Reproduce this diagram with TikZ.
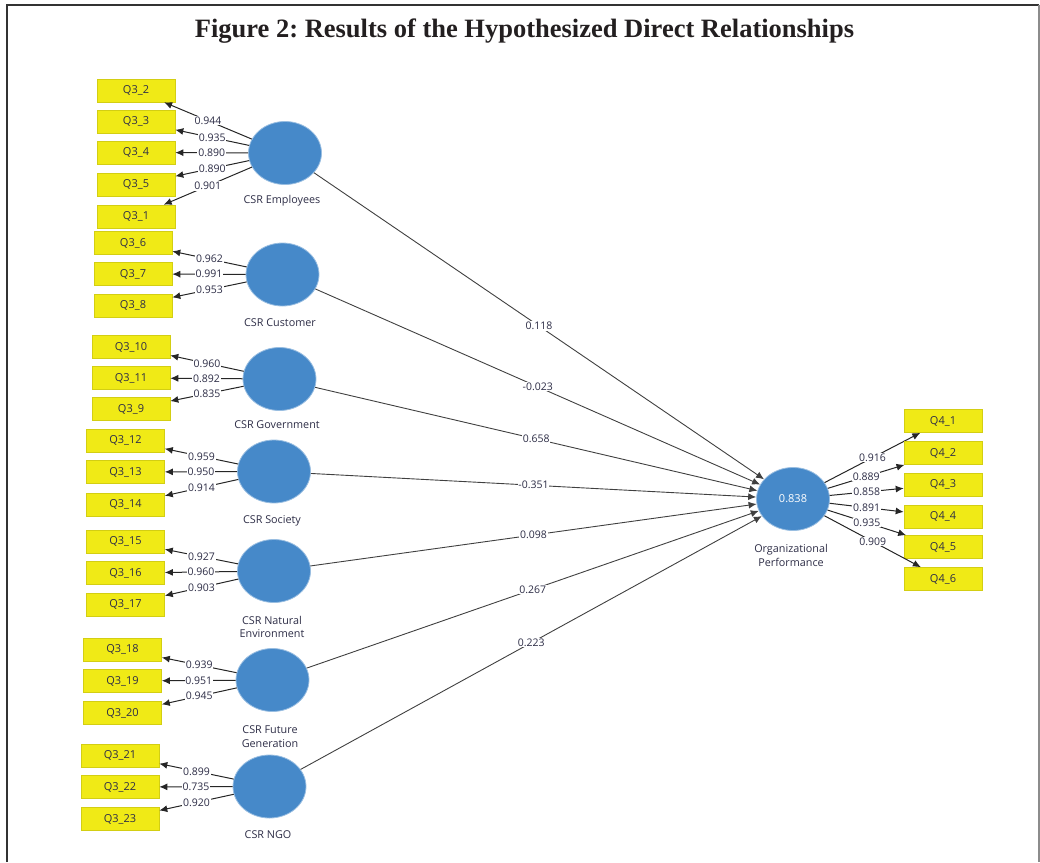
\documentclass[tikz,border=0pt]{standalone}
\usepackage{fontspec}
\setmainfont{Liberation Serif}
\newfontfamily\plsfont{Open Sans}
\usetikzlibrary{shapes.geometric,arrows.meta}
\definecolor{qyel}{RGB}{240,234,22}
\definecolor{lvblue}{RGB}{70,137,201}
\definecolor{txt}{RGB}{45,45,70}
\definecolor{titlec}{RGB}{35,31,32}
\frenchspacing
\begin{document}
\begin{tikzpicture}[x=1pt,y=-1pt,
  ind/.style={rectangle, fill=qyel, draw=qyel!88!black, line width=0.6pt, minimum width=78pt, minimum height=23pt, inner sep=0pt, font=\plsfont\fontsize{11}{12}\selectfont, text=txt},
  lv/.style={ellipse, fill=lvblue, draw=lvblue!55!white, line width=0.8pt, minimum width=73pt, minimum height=63pt, inner sep=0pt},
  loadarrow/.style={draw=black!85, line width=1pt, -{Latex[length=8pt,width=7pt]}},
  pathline/.style={draw=black!75, line width=0.9pt, -{Latex[length=8pt,width=7pt]}},
  lbl/.style={fill=white, inner sep=0.8pt, font=\plsfont\fontsize{10.5}{12}\selectfont, text=txt},
  lvname/.style={font=\plsfont\fontsize{10.8}{13.5}\selectfont, text=txt, align=center},
]
\useasboundingbox (0,0) rectangle (1040,862);
% frame
\draw[line width=1.5pt, black!80] (7,862) -- (7,5) -- (1039,5);
\draw[line width=1.5pt, black!45] (1039,5) -- (1039,862);
% title
\node[anchor=base, font=\bfseries\fontsize{26.5}{30}\selectfont, text=titlec, inner sep=0pt] (title) at (524.5,37) {Figure 2: Results of the Hypothesized Direct Relationships};

% latent variables
\node[lv] (emp) at (285,153) {};
\node[lv] (cus) at (282.5,274.5) {};
\node[lv] (gov) at (279.5,379) {};
\node[lv] (soc) at (274,471.5) {};
\node[lv] (nat) at (274,571) {};
\node[lv] (fut) at (272.5,680) {};
\node[lv] (ngo) at (269.5,786.5) {};
\node[lv, text=white, font=\plsfont\fontsize{11}{12}\selectfont] (op) at (793,499) {0.838};

\node[lvname] (emp-l) at (282,201) {CSR Employees};
\node[lvname] (cus-l) at (280,323) {CSR Customer};
\node[lvname] (gov-l) at (277,425) {CSR Government};
\node[lvname] (soc-l) at (272,521) {CSR Society};
\node[lvname] (nat-l) at (272,627) {CSR Natural\\Environment};
\node[lvname] (fut-l) at (270,736.5) {CSR Future\\Generation};
\node[lvname] (ngo-l) at (268,835) {CSR NGO};
\node[lvname] (op-l) at (791,555.5) {Organizational\\Performance};

% indicators and loadings
\foreach \n/\yy/\v in {2/90.5/0.944, 3/121.5/0.935, 4/152.5/0.890, 5/184.5/0.890, 1/216.5/0.901}{
  \node[ind] (q3-\n) at (136,\yy) {Q3\_\n};
  \draw[loadarrow] (emp) -- node[lbl]{\v} (q3-\n);
}
\foreach \n/\yy/\v in {6/243/0.962, 7/274/0.991, 8/305.5/0.953}{
  \node[ind] (q3-\n) at (133,\yy) {Q3\_\n};
  \draw[loadarrow] (cus) -- node[lbl]{\v} (q3-\n);
}
\foreach \n/\yy/\v in {10/347/0.960, 11/378/0.892, 9/409/0.835}{
  \node[ind] (q3-\n) at (131,\yy) {Q3\_\n};
  \draw[loadarrow] (gov) -- node[lbl]{\v} (q3-\n);
}
\foreach \n/\yy/\v in {12/440.5/0.959, 13/472/0.950, 14/504.5/0.914}{
  \node[ind] (q3-\n) at (125.5,\yy) {Q3\_\n};
  \draw[loadarrow] (soc) -- node[lbl]{\v} (q3-\n);
}
\foreach \n/\yy/\v in {15/541.5/0.927, 16/573/0.960, 17/604.5/0.903}{
  \node[ind] (q3-\n) at (125.5,\yy) {Q3\_\n};
  \draw[loadarrow] (nat) -- node[lbl]{\v} (q3-\n);
}
\foreach \n/\yy/\v in {18/649.5/0.939, 19/681/0.951, 20/713/0.945}{
  \node[ind] (q3-\n) at (122.5,\yy) {Q3\_\n};
  \draw[loadarrow] (fut) -- node[lbl]{\v} (q3-\n);
}
\foreach \n/\yy/\v in {21/755.5/0.899, 22/787/0.735, 23/819/0.920}{
  \node[ind] (q3-\n) at (120,\yy) {Q3\_\n};
  \draw[loadarrow] (ngo) -- node[lbl]{\v} (q3-\n);
}
\foreach \n/\yy/\v in {1/421/0.916, 2/453/0.889, 3/484.5/0.858, 4/516.5/0.891, 5/547/0.935, 6/579/0.909}{
  \node[ind] (q4-\n) at (943,\yy) {Q4\_\n};
  \draw[loadarrow] (op) -- node[lbl]{\v} (q4-\n);
}

% structural paths
\draw[pathline] (emp) -- node[lbl]{0.118} (op);
\draw[pathline] (cus) -- node[lbl]{-0.023} (op);
\draw[pathline] (gov) -- node[lbl]{0.658} (op);
\draw[pathline] (soc) -- node[lbl]{-0.351} (op);
\draw[pathline] (nat) -- node[lbl]{0.098} (op);
\draw[pathline] (fut) -- node[lbl]{0.267} (op);
\draw[pathline] (ngo) -- node[lbl]{0.223} (op);
\end{tikzpicture}
\end{document}
